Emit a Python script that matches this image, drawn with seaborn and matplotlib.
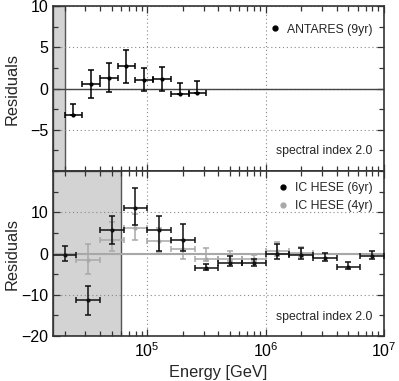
import numpy as np
import pandas as pd
import seaborn as sns
import matplotlib
matplotlib.use("Agg")
import matplotlib.pyplot as plt
from matplotlib.lines import Line2D
from matplotlib.ticker import MultipleLocator, LogLocator, NullFormatter

# ---------------- data ----------------
# ANTARES (9yr)
ant_E = [2.37e4, 3.35e4, 4.73e4, 6.68e4, 9.44e4, 1.33e5, 1.88e5, 2.66e5]
ant_E_lo = [2.0e4, 2.82e4, 3.98e4, 5.62e4, 7.94e4, 1.12e5, 1.58e5, 2.24e5]
ant_E_hi = [2.82e4, 3.98e4, 5.62e4, 7.94e4, 1.12e5, 1.58e5, 2.24e5, 3.16e5]
ant_res = [-3.2, 0.6, 1.3, 2.7, 1.1, 1.2, -0.7, -0.5]
ant_err_up = [1.3, 1.7, 1.8, 2.0, 1.4, 1.4, 1.4, 1.4]
ant_err_dn = [0.0, 1.8, 1.75, 2.0, 1.4, 1.45, 0.0, 0.0]

# IceCube HESE (6yr)
hese6_E = [2.0e4, 3.16e4, 5.01e4, 7.94e4, 1.26e5, 2.0e5, 3.16e5, 5.01e5,
           7.94e5, 1.26e6, 2.0e6, 3.16e6, 5.01e6, 7.94e6]
hese6_E_lo = [1.58e4, 2.51e4, 3.98e4, 6.31e4, 1.0e5, 1.58e5, 2.51e5, 3.98e5,
              6.31e5, 1.0e6, 1.58e6, 2.51e6, 3.98e6, 6.31e6]
hese6_E_hi = [2.51e4, 3.98e4, 6.31e4, 1.0e5, 1.58e5, 2.51e5, 3.98e5, 6.31e5,
              1.0e6, 1.58e6, 2.51e6, 3.98e6, 6.31e6, 1.0e7]
hese6_res = [-0.4, -11.2, 5.6, 11.1, 5.6, 3.4, -3.4, -2.2, -2.4, -0.2, -0.4, -1.1, -3.3, -0.6]
hese6_err_up = [2.2, 3.4, 3.6, 4.9, 3.5, 3.7, 0.9, 1.6, 1.0, 2.6, 1.8, 1.2, 1.3, 1.2]
hese6_err_dn = [1.4, 3.8, 3.2, 4.1, 5.0, 2.7, 0.5, 0.8, 0.6, 1.0, 0.8, 0.7, 0.5, 0.6]

# IceCube HESE (4yr)
hese4_E = [3.16e4, 5.01e4, 7.94e4, 1.26e5, 2.0e5, 3.16e5, 5.01e5, 7.94e5, 1.26e6, 2.0e6]
hese4_E_lo = [2.51e4, 3.98e4, 6.31e4, 1.0e5, 1.58e5, 2.51e5, 3.98e5, 6.31e5, 1.0e6, 1.58e6]
hese4_E_hi = [3.98e4, 6.31e4, 1.0e5, 1.58e5, 2.51e5, 3.98e5, 6.31e5, 1.0e6, 1.58e6, 2.51e6]
hese4_res = [-1.6, 3.3, 6.2, 3.1, 1.0, -1.2, -1.2, -1.2, 0.6, 0.1]
hese4_err_up = [4.0, 4.4, 3.3, 3.0, 2.3, 2.5, 1.7, 0.8, 2.2, 1.5]
hese4_err_dn = [3.4, 2.7, 3.0, 2.8, 2.3, 0.5, 0.5, 0.5, 1.2, 1.0]

x_ticks = [1e5, 1e6, 1e7]
top_yticks = [-5, 0, 5, 10]
bot_yticks = [-20, -10, 0, 10]

# ---------------- style ----------------
sns.set_theme(style="ticks")
plt.rcParams["font.family"] = ["Liberation Sans", "DejaVu Sans"]
plt.rcParams["mathtext.fontset"] = "custom"
plt.rcParams["mathtext.rm"] = "Liberation Sans"
plt.rcParams["mathtext.it"] = "Liberation Sans:italic"
plt.rcParams["axes.unicode_minus"] = True

fig = plt.figure(figsize=(3.99, 3.81), dpi=100)
gs = fig.add_gridspec(2, 1, left=0.133, right=0.962, top=0.984, bottom=0.118, hspace=0)
ax1 = fig.add_subplot(gs[0])
ax2 = fig.add_subplot(gs[1], sharex=ax1)

FRAME = "#333333"
GREY = "#a8a8a8"


def draw_series(ax, E, Elo, Ehi, res, eup, edn, color, z):
    df = pd.DataFrame({"E": E, "res": res})
    xerr = np.array([np.array(E) - np.array(Elo), np.array(Ehi) - np.array(E)])
    yerr = np.array([edn, eup])
    ax.errorbar(df["E"], df["res"], xerr=xerr, yerr=yerr, fmt="none",
                ecolor=color, elinewidth=1.1, capsize=2.2, capthick=1.1, zorder=z)
    sns.scatterplot(data=df, x="E", y="res", ax=ax, color=color, s=9,
                    edgecolor=color, linewidth=0, zorder=z + 0.1, legend=False)


# top panel
ax1.axvspan(1.6e4, 2.0e4, facecolor="#d3d3d3", edgecolor="#555555", lw=1.0, zorder=0.2)
ax1.axhline(0, color="#444444", lw=1.0, zorder=1)
draw_series(ax1, ant_E, ant_E_lo, ant_E_hi, ant_res, ant_err_up, ant_err_dn, "black", 3)

# bottom panel
ax2.axvspan(1.6e4, 6.0e4, facecolor="#d3d3d3", edgecolor="#555555", lw=1.0, zorder=0.2)
ax2.axhline(0, color=GREY, lw=1.5, zorder=1)
draw_series(ax2, hese4_E, hese4_E_lo, hese4_E_hi, hese4_res, hese4_err_up, hese4_err_dn, GREY, 2)
draw_series(ax2, hese6_E, hese6_E_lo, hese6_E_hi, hese6_res, hese6_err_up, hese6_err_dn, "#111111", 3)

for ax in (ax1, ax2):
    ax.set_xscale("log")
    ax.set_xlim(1.6e4, 1e7)
    ax.set_xticks(x_ticks)
    ax.xaxis.set_minor_locator(LogLocator(base=10, subs=np.arange(2, 10)))
    ax.xaxis.set_minor_formatter(NullFormatter())
    ax.grid(True, which="major", ls=(0, (1, 2.5)), color="#888888", lw=0.8)
    ax.set_axisbelow(True)
    ax.tick_params(which="both", direction="in", top=True, right=True,
                   colors=FRAME, labelcolor="black", width=0.9)
    ax.tick_params(which="major", length=5, labelsize=11.5)
    ax.tick_params(which="minor", length=3.5)
    for sp in ax.spines.values():
        sp.set_color(FRAME)
        sp.set_linewidth(1.2)
    ax.set_ylabel("Residuals", fontsize=11.8, labelpad=4)

ax1.set_ylim(-10, 10)
ax1.set_yticks(top_yticks)
ax1.yaxis.set_minor_locator(MultipleLocator(2.5))
ax1.tick_params(axis="x", labelbottom=False)
ax1.set_xlabel("")

ax2.set_ylim(-20, 20)
ax2.set_yticks(bot_yticks)
ax2.yaxis.set_minor_locator(MultipleLocator(5))
ax2.set_xlabel("Energy [GeV]", fontsize=11.8, labelpad=4)

# y-label alignment
ax1.yaxis.set_label_coords(-0.1, 0.5)
ax2.yaxis.set_label_coords(-0.1, 0.5)

# legends
h_ant = [Line2D([], [], marker="o", color="black", ls="none", markersize=3.5)]
ax1.legend(h_ant, ["ANTARES (9yr)"], loc="upper right", frameon=False, fontsize=8.8,
           handlelength=0.8, handletextpad=0.6, borderaxespad=0.5, bbox_to_anchor=(1.0, 0.96))
h_ic = [Line2D([], [], marker="o", color="black", ls="none", markersize=3.5),
        Line2D([], [], marker="o", color=GREY, ls="none", markersize=3.5)]
ax2.legend(h_ic, ["IC HESE (6yr)", "IC HESE (4yr)"], loc="upper right", frameon=False,
           fontsize=8.8, handlelength=0.8, handletextpad=0.6, labelspacing=0.5,
           borderaxespad=0.5, bbox_to_anchor=(1.0, 1.0))

ax1.text(0.965, 0.12, "spectral index 2.0", transform=ax1.transAxes, ha="right",
         va="center", fontsize=8.8)
ax2.text(0.965, 0.118, "spectral index 2.0", transform=ax2.transAxes, ha="right",
         va="center", fontsize=8.8)

fig.savefig("out.png", dpi=100)
